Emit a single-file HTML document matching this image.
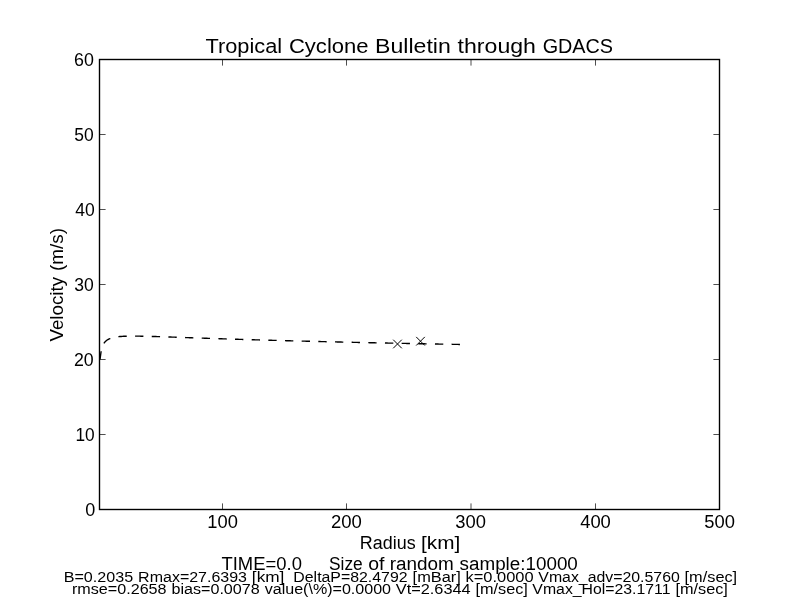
<!DOCTYPE html>
<html><head><meta charset="utf-8"><title>Tropical Cyclone Bulletin through GDACS</title>
<style>
html,body{margin:0;padding:0;background:#fff;width:800px;height:600px;overflow:hidden}
svg{display:block;will-change:transform}
text{font-family:"Liberation Sans",sans-serif;fill:#000}
</style></head><body>
<svg width="800" height="600" viewBox="0 0 800 600">
<rect x="0" y="0" width="800" height="600" fill="#fff"/>
<polyline fill="none" stroke="#000" stroke-width="1.389" stroke-dasharray="8.333 8.333" points="100.00,359.53 101.24,350.44 102.48,346.18 103.73,343.64 104.97,341.94 106.21,340.72 107.45,339.81 108.70,339.10 109.94,338.54 111.18,338.10 112.42,337.73 113.67,337.43 114.91,337.19 116.15,336.98 117.39,336.81 118.64,336.67 119.88,336.55 121.12,336.45 122.36,336.37 123.61,336.30 124.85,336.25 126.09,336.21 127.33,336.17 128.58,336.15 129.82,336.13 131.06,336.12 132.30,336.11 133.55,336.11 134.79,336.12 136.03,336.12 137.27,336.14 138.52,336.15 139.76,336.17 141.00,336.19 142.24,336.21 143.49,336.24 144.73,336.26 145.97,336.29 147.21,336.32 148.46,336.35 149.70,336.38 150.94,336.42 152.18,336.45 153.43,336.49 154.67,336.53 155.91,336.56 157.15,336.60 158.40,336.64 159.64,336.68 160.88,336.72 162.12,336.76 163.37,336.80 164.61,336.84 165.85,336.88 167.09,336.92 168.34,336.97 169.58,337.01 170.82,337.05 172.06,337.09 173.31,337.14 174.55,337.18 175.79,337.22 177.03,337.26 178.28,337.31 179.52,337.35 180.76,337.39 182.00,337.44 183.25,337.48 184.49,337.52 185.73,337.57 186.97,337.61 188.22,337.65 189.46,337.70 190.70,337.74 191.94,337.78 193.19,337.82 194.43,337.87 195.67,337.91 196.91,337.95 198.16,338.00 199.40,338.04 200.64,338.08 201.88,338.12 203.13,338.16 204.37,338.21 205.61,338.25 206.85,338.29 208.10,338.33 209.34,338.37 210.58,338.42 211.82,338.46 213.07,338.50 214.31,338.54 215.55,338.58 216.79,338.62 218.04,338.66 219.28,338.70 220.52,338.74 221.76,338.78 223.01,338.82 224.25,338.86 225.49,338.90 226.73,338.94 227.98,338.98 229.22,339.02 230.46,339.06 231.70,339.10 232.95,339.14 234.19,339.18 235.43,339.22 236.67,339.26 237.92,339.29 239.16,339.33 240.40,339.37 241.64,339.41 242.89,339.45 244.13,339.48 245.37,339.52 246.61,339.56 247.86,339.60 249.10,339.63 250.34,339.67 251.58,339.71 252.83,339.74 254.07,339.78 255.31,339.82 256.55,339.85 257.80,339.89 259.04,339.93 260.28,339.96 261.52,340.00 262.77,340.03 264.01,340.07 265.25,340.11 266.49,340.14 267.74,340.18 268.98,340.21 270.22,340.25 271.46,340.28 272.71,340.32 273.95,340.35 275.19,340.38 276.43,340.42 277.68,340.45 278.92,340.49 280.16,340.52 281.40,340.56 282.65,340.59 283.89,340.62 285.13,340.66 286.37,340.69 287.62,340.72 288.86,340.76 290.10,340.79 291.34,340.82 292.59,340.85 293.83,340.89 295.07,340.92 296.31,340.95 297.56,340.98 298.80,341.02 300.04,341.05 301.28,341.08 302.53,341.11 303.77,341.14 305.01,341.18 306.25,341.21 307.49,341.24 308.74,341.27 309.98,341.30 311.22,341.33 312.46,341.36 313.71,341.39 314.95,341.43 316.19,341.46 317.43,341.49 318.68,341.52 319.92,341.55 321.16,341.58 322.40,341.61 323.65,341.64 324.89,341.67 326.13,341.70 327.37,341.73 328.62,341.76 329.86,341.79 331.10,341.82 332.34,341.85 333.59,341.88 334.83,341.91 336.07,341.93 337.31,341.96 338.56,341.99 339.80,342.02 341.04,342.05 342.28,342.08 343.53,342.11 344.77,342.14 346.01,342.16 347.25,342.19 348.50,342.22 349.74,342.25 350.98,342.28 352.22,342.30 353.47,342.33 354.71,342.36 355.95,342.39 357.19,342.42 358.44,342.44 359.68,342.47 360.92,342.50 362.16,342.53 363.41,342.55 364.65,342.58 365.89,342.61 367.13,342.63 368.38,342.66 369.62,342.69 370.86,342.71 372.10,342.74 373.35,342.77 374.59,342.79 375.83,342.82 377.07,342.85 378.32,342.87 379.56,342.90 380.80,342.93 382.04,342.95 383.29,342.98 384.53,343.00 385.77,343.03 387.01,343.06 388.26,343.08 389.50,343.11 390.74,343.13 391.98,343.16 393.23,343.18 394.47,343.21 395.71,343.23 396.95,343.26 398.20,343.28 399.44,343.31 400.68,343.33 401.92,343.36 403.17,343.38 404.41,343.41 405.65,343.43 406.89,343.46 408.14,343.48 409.38,343.51 410.62,343.53 411.86,343.56 413.11,343.58 414.35,343.60 415.59,343.63 416.83,343.65 418.08,343.68 419.32,343.70 420.56,343.72 421.80,343.75 423.05,343.77 424.29,343.80 425.53,343.82 426.77,343.84 428.02,343.87 429.26,343.89 430.50,343.91 431.74,343.94 432.99,343.96 434.23,343.98 435.47,344.01 436.71,344.03 437.96,344.05 439.20,344.08 440.44,344.10 441.68,344.12 442.93,344.14 444.17,344.17 445.41,344.19 446.65,344.21 447.90,344.23 449.14,344.26 450.38,344.28 451.62,344.30 452.87,344.32 454.11,344.35 455.35,344.37 456.59,344.39 457.84,344.41 459.08,344.44 460.32,344.46"/>
<g stroke="#000" stroke-width="1.000" fill="none"><path d="M393.20 339.70 L401.80 348.30 M393.20 348.30 L401.80 339.70"/><path d="M416.20 336.90 L424.80 345.50 M416.20 345.50 L424.80 336.90"/></g>
<g stroke="#000" stroke-width="0.694" fill="none"><line x1="99.5" y1="434.5" x2="105.600" y2="434.5"/><line x1="719.5" y1="434.5" x2="713.400" y2="434.5"/><line x1="99.5" y1="359.5" x2="105.600" y2="359.5"/><line x1="719.5" y1="359.5" x2="713.400" y2="359.5"/><line x1="99.5" y1="284.5" x2="105.600" y2="284.5"/><line x1="719.5" y1="284.5" x2="713.400" y2="284.5"/><line x1="99.5" y1="209.5" x2="105.600" y2="209.5"/><line x1="719.5" y1="209.5" x2="713.400" y2="209.5"/><line x1="99.5" y1="134.5" x2="105.600" y2="134.5"/><line x1="719.5" y1="134.5" x2="713.400" y2="134.5"/><line x1="222.5" y1="509.5" x2="222.5" y2="503.400"/><line x1="222.5" y1="59.5" x2="222.5" y2="65.600"/><line x1="346.5" y1="509.5" x2="346.5" y2="503.400"/><line x1="346.5" y1="59.5" x2="346.5" y2="65.600"/><line x1="471.0" y1="509.5" x2="471.0" y2="503.400"/><line x1="471.0" y1="59.5" x2="471.0" y2="65.600"/><line x1="595.5" y1="509.5" x2="595.5" y2="503.400"/><line x1="595.5" y1="59.5" x2="595.5" y2="65.600"/></g>
<rect x="99.5" y="59.5" width="620" height="450" fill="none" stroke="#000" stroke-width="1.389"/>
<g>
<text x="205.52" y="52.80" font-size="19.600" textLength="76.61" lengthAdjust="spacingAndGlyphs">Tropical</text>
<text x="288.94" y="52.80" font-size="19.600" textLength="79.63" lengthAdjust="spacingAndGlyphs">Cyclone</text>
<text x="375.10" y="52.80" font-size="19.600" textLength="75.76" lengthAdjust="spacingAndGlyphs">Bulletin</text>
<text x="457.62" y="52.80" font-size="19.600" textLength="78.35" lengthAdjust="spacingAndGlyphs">through</text>
<text x="542.67" y="52.80" font-size="19.600" textLength="70.34" lengthAdjust="spacingAndGlyphs">GDACS</text>
<text x="85.24" y="515.70" font-size="18.000" textLength="10.03" lengthAdjust="spacingAndGlyphs">0</text>
<text x="75.43" y="440.70" font-size="18.000" textLength="19.24" lengthAdjust="spacingAndGlyphs">10</text>
<text x="74.01" y="365.70" font-size="18.000" textLength="19.75" lengthAdjust="spacingAndGlyphs">20</text>
<text x="74.23" y="290.70" font-size="18.000" textLength="19.51" lengthAdjust="spacingAndGlyphs">30</text>
<text x="75.20" y="215.70" font-size="18.000" textLength="19.49" lengthAdjust="spacingAndGlyphs">40</text>
<text x="74.36" y="140.70" font-size="18.000" textLength="19.38" lengthAdjust="spacingAndGlyphs">50</text>
<text x="74.09" y="65.70" font-size="18.000" textLength="19.85" lengthAdjust="spacingAndGlyphs">60</text>
<text x="207.33" y="527.60" font-size="18.000" textLength="30.54" lengthAdjust="spacingAndGlyphs">100</text>
<text x="330.91" y="527.60" font-size="18.000" textLength="30.87" lengthAdjust="spacingAndGlyphs">200</text>
<text x="455.26" y="527.60" font-size="18.000" textLength="30.64" lengthAdjust="spacingAndGlyphs">300</text>
<text x="580.18" y="527.60" font-size="18.000" textLength="30.69" lengthAdjust="spacingAndGlyphs">400</text>
<text x="704.23" y="527.60" font-size="18.000" textLength="30.63" lengthAdjust="spacingAndGlyphs">500</text>
<text x="359.78" y="548.80" font-size="18.000" textLength="55.83" lengthAdjust="spacingAndGlyphs">Radius</text>
<text x="421.06" y="548.80" font-size="18.000" textLength="39.17" lengthAdjust="spacingAndGlyphs">[km]</text>
<g transform="translate(62.75 341.50) rotate(-90)"><text x="-0.08" y="0.00" font-size="18.000" textLength="64.64" lengthAdjust="spacingAndGlyphs">Velocity</text><text x="70.55" y="0.00" font-size="18.000" textLength="42.86" lengthAdjust="spacingAndGlyphs">(m/s)</text></g>
<text x="221.49" y="569.60" font-size="18.000" textLength="80.39" lengthAdjust="spacingAndGlyphs">TIME=0.0</text>
<text x="329.00" y="569.60" font-size="18.000" textLength="33.72" lengthAdjust="spacingAndGlyphs">Size</text>
<text x="368.22" y="569.60" font-size="18.000" textLength="16.22" lengthAdjust="spacingAndGlyphs">of</text>
<text x="389.69" y="569.60" font-size="18.000" textLength="64.08" lengthAdjust="spacingAndGlyphs">random</text>
<text x="459.60" y="569.60" font-size="18.000" textLength="118.23" lengthAdjust="spacingAndGlyphs">sample:10000</text>
<text x="63.68" y="581.75" font-size="14.720" textLength="69.43" lengthAdjust="spacingAndGlyphs">B=0.2035</text>
<text x="138.13" y="581.75" font-size="14.720" textLength="108.90" lengthAdjust="spacingAndGlyphs">Rmax=27.6393</text>
<text x="251.85" y="581.75" font-size="14.720" textLength="32.59" lengthAdjust="spacingAndGlyphs">[km]</text>
<text x="293.33" y="581.75" font-size="14.720" textLength="114.25" lengthAdjust="spacingAndGlyphs">DeltaP=82.4792</text>
<text x="412.64" y="581.75" font-size="14.720" textLength="48.23" lengthAdjust="spacingAndGlyphs">[mBar]</text>
<text x="465.49" y="581.75" font-size="14.720" textLength="68.08" lengthAdjust="spacingAndGlyphs">k=0.0000</text>
<text x="538.32" y="581.75" font-size="14.720" textLength="141.49" lengthAdjust="spacingAndGlyphs">Vmax_adv=20.5760</text>
<text x="684.58" y="581.75" font-size="14.720" textLength="52.58" lengthAdjust="spacingAndGlyphs">[m/sec]</text>
<text x="71.93" y="593.75" font-size="14.720" textLength="94.64" lengthAdjust="spacingAndGlyphs">rmse=0.2658</text>
<text x="171.46" y="593.75" font-size="14.720" textLength="88.25" lengthAdjust="spacingAndGlyphs">bias=0.0078</text>
<text x="264.74" y="593.75" font-size="14.720" textLength="126.32" lengthAdjust="spacingAndGlyphs">value(\%)=0.0000</text>
<text x="395.81" y="593.75" font-size="14.720" textLength="74.90" lengthAdjust="spacingAndGlyphs">Vt=2.6344</text>
<text x="475.46" y="593.75" font-size="14.720" textLength="52.43" lengthAdjust="spacingAndGlyphs">[m/sec]</text>
<text x="532.39" y="593.75" font-size="14.720" textLength="138.12" lengthAdjust="spacingAndGlyphs">Vmax_Hol=23.1711</text>
<text x="675.48" y="593.75" font-size="14.720" textLength="52.43" lengthAdjust="spacingAndGlyphs">[m/sec]</text>
</g>
</svg>
</body></html>
